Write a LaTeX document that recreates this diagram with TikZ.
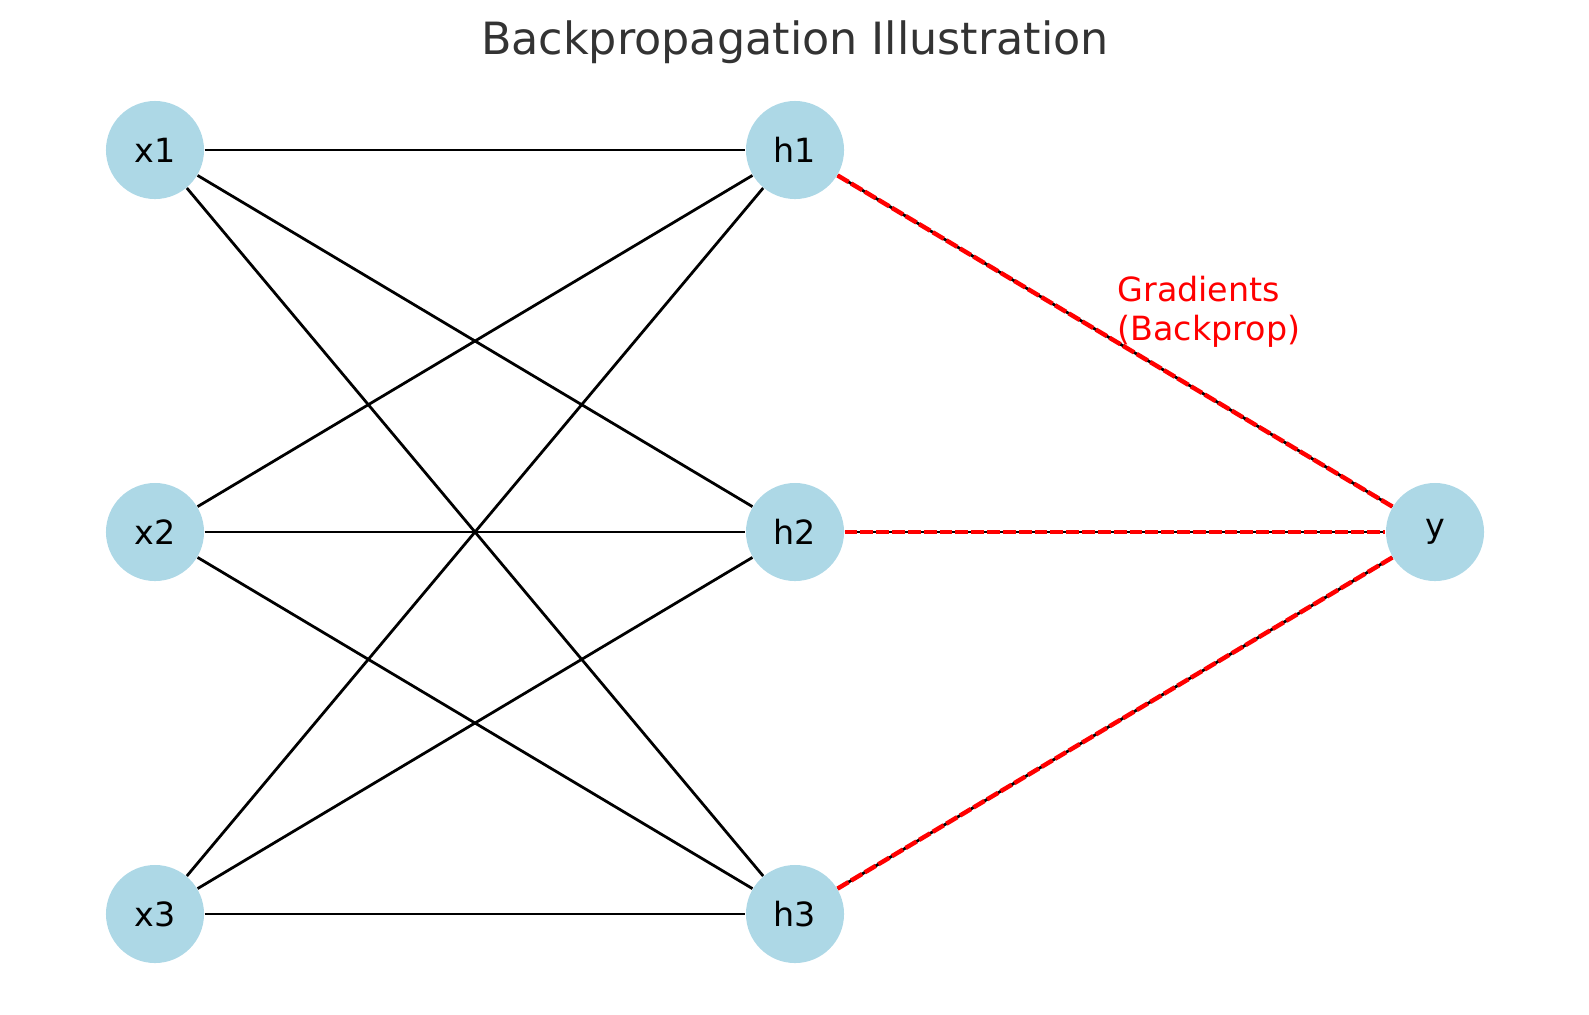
\documentclass[tikz,border=0pt]{standalone}
\usepackage{fontspec}
\setmainfont{DejaVu Sans}
\definecolor{nodeblue}{RGB}{173,216,230}
\definecolor{titlegray}{RGB}{51,51,51}
\begin{document}
\begin{tikzpicture}[x=0.36pt,y=-0.36pt,
  neuron/.style={circle,fill=nodeblue,minimum size=35.3pt,inner sep=0pt,font=\fontsize{12}{14}\selectfont},
  conn/.style={black,line width=1pt},
  grad/.style={red,line width=1.6pt,dash pattern=on 4.6pt off 1.1pt}]
\useasboundingbox (0,0) rectangle (1589,1014);
\node[neuron] (x1) at (155,150) {x1};
\node[neuron] (x2) at (155,532) {x2};
\node[neuron] (x3) at (155,914) {x3};
\node[neuron] (h1) at (795,150) {h1};
\node[neuron] (h2) at (795,532) {h2};
\node[neuron] (h3) at (795,914) {h3};
\node[neuron] (y) at (1435,532) {\raisebox{-1.5pt}{y}};
\foreach \a in {x1,x2,x3}{
  \foreach \b in {h1,h2,h3}{
    \draw[conn] (\a) -- (\b);
  }
}
\foreach \b in {h1,h2,h3}{
  \draw[conn] (\b) -- (y);
  \draw[grad] (\b) -- (y);
}
\node[anchor=base,text=titlegray,font=\fontsize{16}{19}\selectfont] (title) at (795,54) {Backpropagation Illustration};
\node[anchor=base west,text=red,align=left,inner sep=0pt,font=\fontsize{12}{14}\selectfont] (gradlabel) at (1117,340) {Gradients\\(Backprop)};
\end{tikzpicture}
\end{document}
